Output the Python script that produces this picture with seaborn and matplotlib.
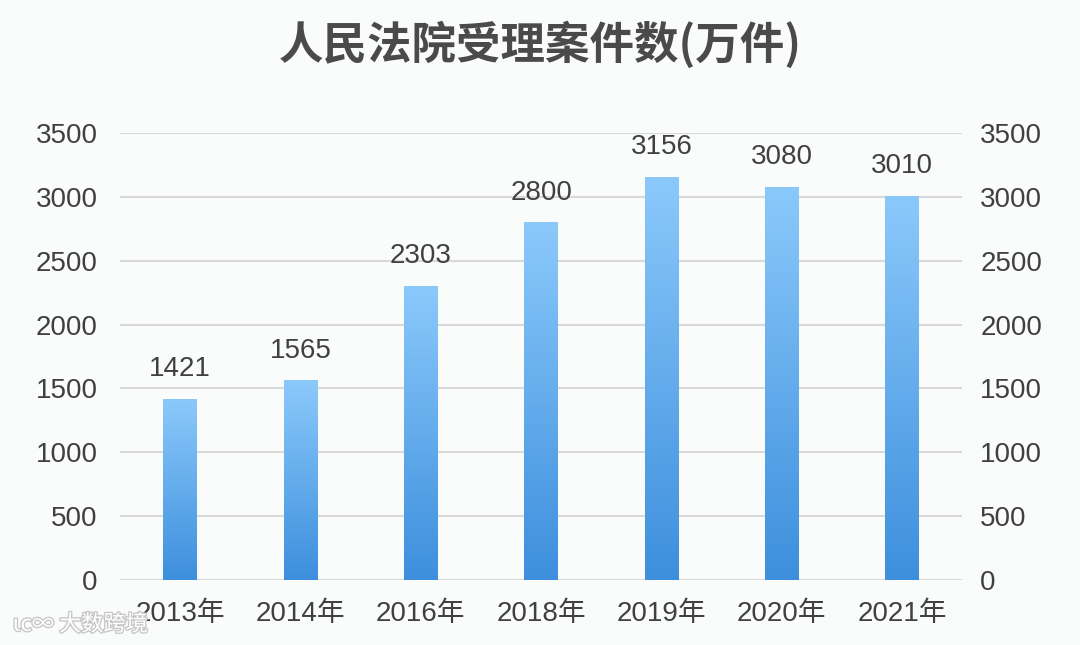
import numpy as np
import pandas as pd
import matplotlib.pyplot as plt
import matplotlib.colors as mcolors
import matplotlib.patheffects as pe
import seaborn as sns

years = ['2013年', '2014年', '2016年', '2018年', '2019年', '2020年', '2021年']
cases = [1421, 1565, 2303, 2800, 3156, 3080, 3010]
yticks = [0, 500, 1000, 1500, 2000, 2500, 3000, 3500]

df = pd.DataFrame({'year': years, 'cases': cases})

sns.set_style('white')
plt.rcParams['font.family'] = ['Liberation Sans', 'Noto Sans CJK SC', 'DejaVu Sans']

bg = '#FAFBFB'
text_color = '#404040'
fs = 20

fig = plt.figure(figsize=(10.8, 6.45), dpi=100, facecolor=bg)
ax = fig.add_axes([0.111, 0.1008, 0.780, 0.693])
ax.set_facecolor(bg)

sns.barplot(data=df, x='year', y='cases', ax=ax, width=0.28, color='#6FB3F0', zorder=2)

# gradient fill for each bar: light at top, darker at bottom
cmap = mcolors.LinearSegmentedColormap.from_list('bar', ['#3D8FDD', '#8BC9FB'])
grad = np.linspace(0, 1, 256).reshape(-1, 1)
for p in ax.patches:
    x0, y0 = p.get_x(), p.get_y()
    w, h = p.get_width(), p.get_height()
    p.set_facecolor('none')
    p.set_edgecolor('none')
    im = ax.imshow(grad, extent=[x0, x0 + w, y0, y0 + h], origin='lower',
                   cmap=cmap, aspect='auto', zorder=2)
    im.set_clip_path(p)
    ax.text(x0 + w / 2, y0 + h + 130, f'{int(h)}', ha='center', va='bottom',
            fontsize=fs, color=text_color)

ax.set_xlim(-0.5, len(years) - 0.5)
ax.set_ylim(0, 3500)
ax.set_yticks(yticks)
ax.yaxis.grid(True, color='#D9D9D9', linewidth=1.5, zorder=0)
ax.set_axisbelow(True)
for s in ax.spines.values():
    s.set_visible(False)
ax.tick_params(axis='y', length=0, labelsize=fs, labelcolor=text_color, pad=16)
ax.tick_params(axis='x', length=0, labelsize=fs, labelcolor=text_color, pad=15)
ax.set_xlabel('')
ax.set_ylabel('')

ax2 = ax.twinx()
ax2.set_ylim(0, 3500)
ax2.set_yticks(yticks)
for s in ax2.spines.values():
    s.set_visible(False)
ax2.tick_params(axis='y', length=0, labelsize=fs, labelcolor=text_color, pad=13)

fig.text(0.5, 0.93, '人民法院受理案件数(万件)', ha='center', va='center',
         fontsize=32, fontweight='heavy', color='#4A4A4A',
         family=['Noto Sans CJK SC', 'DejaVu Sans'])

# watermark
wm = fig.text(0.012, 0.032, 'ɩc∞ 大数跨境', ha='left', va='center', fontsize=16,
              color='white', family=['Noto Sans CJK SC', 'DejaVu Sans'])
wm.set_path_effects([pe.withStroke(linewidth=2, foreground='#C8C8C8')])

fig.savefig('out.png', dpi=100, facecolor=bg)
